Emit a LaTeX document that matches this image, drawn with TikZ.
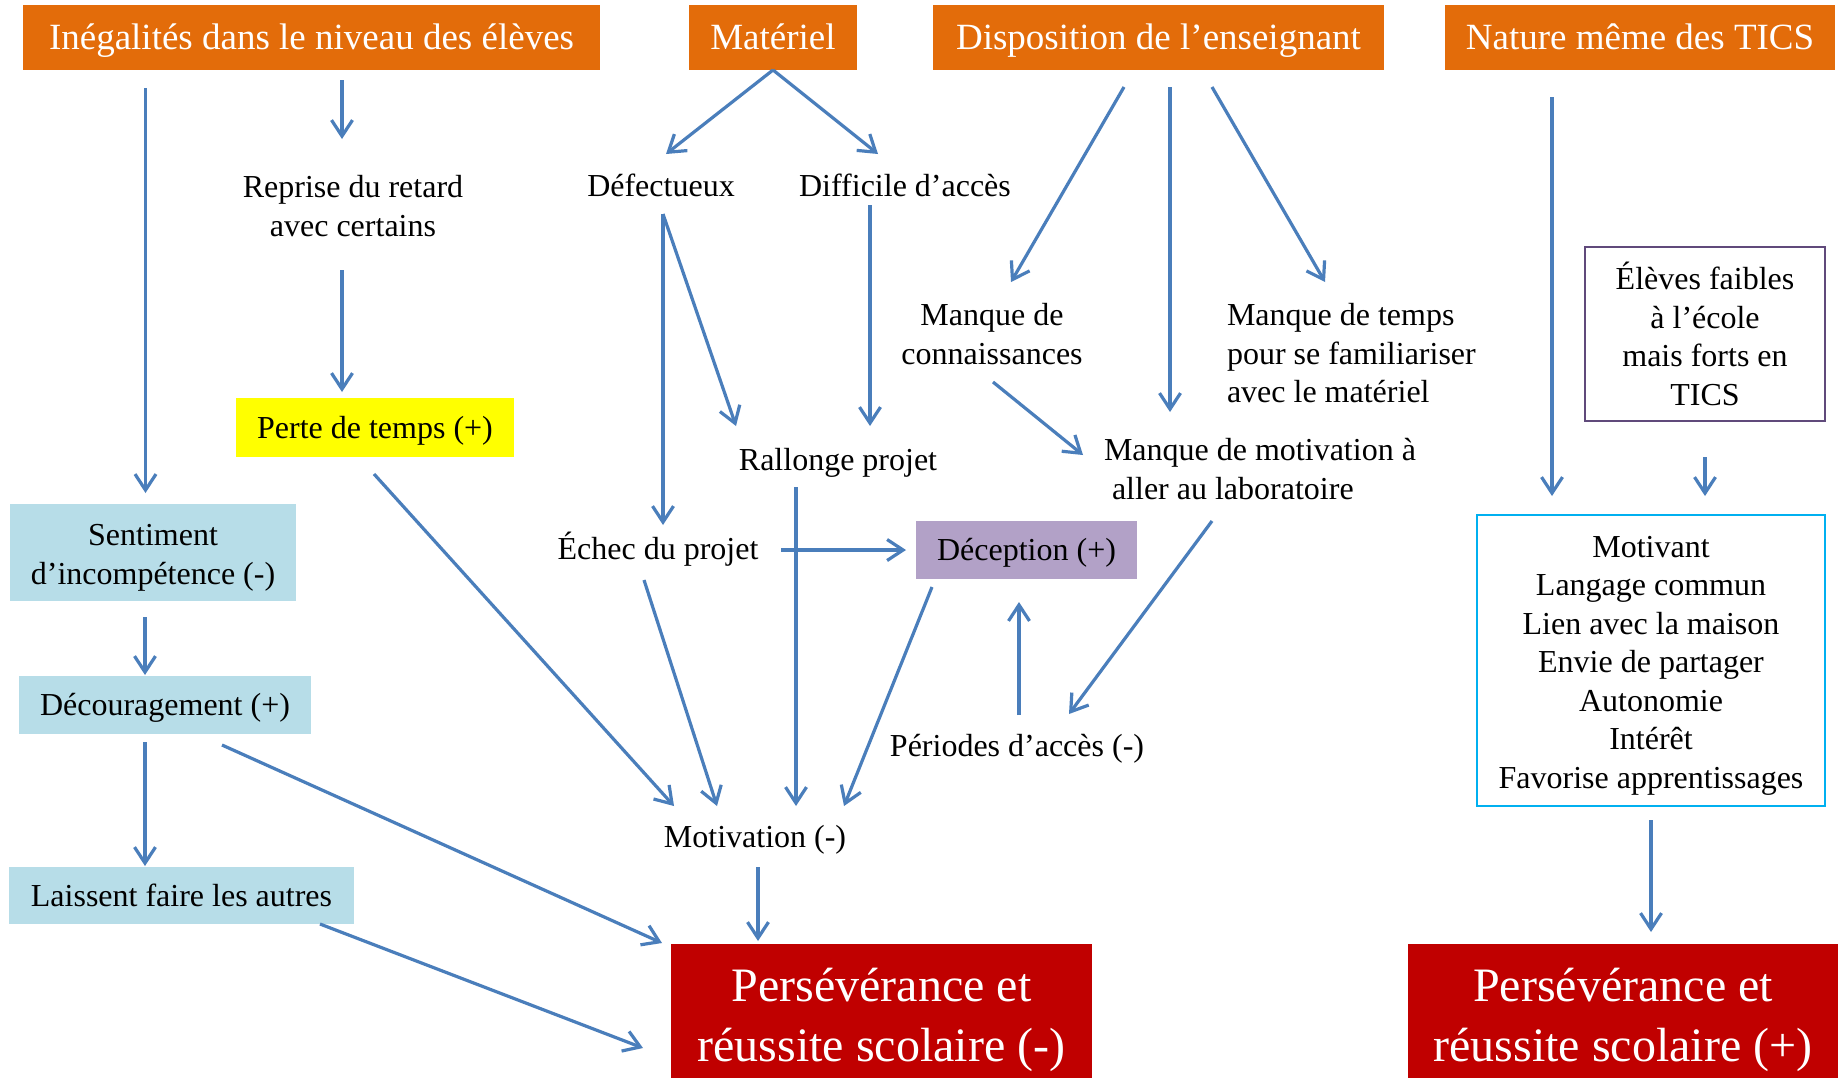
\documentclass[tikz,border=0pt]{standalone}
\usepackage{fontspec}
\setmainfont{Liberation Serif}
\usetikzlibrary{arrows.meta,calc}
\definecolor{orng}{HTML}{E36C0A}
\definecolor{yellowc}{HTML}{FFFF00}
\definecolor{lblue}{HTML}{B7DDE8}
\definecolor{purp}{HTML}{B2A1C7}
\definecolor{darkred}{HTML}{C00000}
\definecolor{purpb}{HTML}{604A7B}
\definecolor{cyanb}{HTML}{00B0F0}
\definecolor{arrowblue}{HTML}{4A7EBB}
\begin{document}
\begin{tikzpicture}[x=1pt,y=-1pt,
  base/.style={inner sep=0pt, outer sep=0pt},
  topbox/.style={base, fill=orng, text=white, font=\fontsize{37}{44}\selectfont, text height=24.5pt, text depth=0pt, minimum height=65pt},
  lbl/.style={base, font=\fontsize{32}{38.5}\selectfont},
  mlbl/.style={lbl, align=center},
  sbox/.style={lbl, text height=21.2pt, text depth=0pt},
  redbox/.style={base, fill=darkred, text=white, align=center, font=\fontsize{48}{60}\selectfont, minimum height=145pt},
  arr/.style={draw=arrowblue, line width=3.2pt, -{Straight Barb[length=16pt,width=21pt]}}
]
\useasboundingbox (0,0) rectangle (1838,1077);
\fill[white] (0,0) rectangle (1838,1077);

% top row
\node[topbox, minimum width=577pt] (ineg) at (311.5,37.5) {Inégalités dans le niveau des élèves};
\node[topbox, minimum width=168pt] (mat) at (773,37.5) {Matériel};
\node[topbox, minimum width=451pt] (disp) at (1158.5,37.5) {Disposition de l’enseignant};
\node[topbox, minimum width=390pt] (nat) at (1640,37.5) {Nature même des TICS};

% left column
\node[mlbl] (reprise) at (353,206) {Reprise du retard\\avec certains};
\node[sbox, fill=yellowc, minimum width=278pt, minimum height=59pt] (perte) at (375,427.5) {Perte de temps (+)};
\node[mlbl, fill=lblue, minimum width=286pt, minimum height=97pt] (sent) at (153,552.5) {\rule{0pt}{32pt}Sentiment\\d’incompétence (-)};
\node[sbox, fill=lblue, minimum width=292pt, minimum height=58pt] (decour) at (165,705) {Découragement (+)};
\node[sbox, fill=lblue, minimum width=345pt, minimum height=57pt] (laiss) at (181.5,895.5) {Laissent faire les autres};

% middle
\node[lbl, anchor=base] (defect) at (661,196) {Défectueux};
\node[lbl, anchor=base] (diffic) at (905,196) {Difficile d’accès};
\node[lbl, anchor=base] (rallonge) at (838,470) {Rallonge projet};
\node[lbl, anchor=base] (echec) at (658,559) {Échec du projet};
\node[sbox, fill=purp, minimum width=221pt, minimum height=58pt] (decep) at (1026.5,550) {Déception (+)};
\node[mlbl] (conn) at (992,334) {Manque de\\connaissances};
\node[lbl, align=left, anchor=west] (temps) at (1227,353.5) {Manque de temps\\pour se familiariser\\avec le matériel};
\node[lbl, align=left, anchor=west] (manqmot) at (1104,469) {Manque de motivation à\\\hspace*{8pt}aller au laboratoire};
\node[lbl, anchor=base] (periodes) at (1017,756) {Périodes d’accès (-)};
\node[lbl, anchor=base] (motiv) at (755,847) {Motivation (-)};

% right
\node[mlbl, draw=purpb, line width=2pt, minimum width=240pt, minimum height=174pt] (eleves) at (1705,334) {Élèves faibles\\à l’école\\mais forts en\\TICS};
\node[mlbl, draw=cyanb, line width=2.5pt, minimum width=348pt, minimum height=291pt] (bluebox) at (1651,660.5) {\rule{0pt}{31pt}Motivant\\Langage commun\\Lien avec la maison\\Envie de partager\\Autonomie\\Intérêt\\Favorise apprentissages};

% outcomes
\node[redbox, minimum width=421pt] (red1) at (881.5,1016.5) {\rule{0pt}{40pt}Persévérance et\\réussite scolaire (-)};
\node[redbox, minimum width=430pt] (red2) at (1623,1016.5) {\rule{0pt}{40pt}Persévérance et\\réussite scolaire (+)};

% connectors
\draw[arr] ($(ineg)+(-166,50.5)$) -- ($(sent)+(-7.5,-59.5)$);
\draw[arr] ($(ineg)+(30.5,42.5)$) -- ($(reprise)+(-11,-67)$);
\draw[arr] ($(mat)+(0,32.5)$) -- ($(defect.base)+(5,-42)$);
\draw[arr] ($(mat)+(0,32.5)$) -- ($(diffic.base)+(-27,-42)$);
\draw[arr] ($(reprise)+(-11,64)$) -- ($(perte)+(-33,-35.5)$);
\draw[arr] ($(defect.base)+(2,18)$) -- ($(echec.base)+(5,-34)$);
\draw[arr] ($(defect.base)+(2,18)$) -- ($(rallonge.base)+(-102,-44)$);
\draw[arr] ($(diffic.base)+(-35,9)$) -- ($(rallonge.base)+(32,-44)$);
\draw[arr] ($(disp)+(-34.5,49.5)$) -- ($(conn)+(19,-52)$);
\draw[arr] ($(disp)+(11.5,49.5)$) -- ($(manqmot.west)+(66,-57)$);
\draw[arr] ($(disp)+(53.5,49.5)$) -- ($(temps.west)+(98,-71.5)$);
\draw[arr] ($(conn)+(1,48)$) -- ($(manqmot.west)+(-21,-14)$);
\draw[arr] ($(manqmot.west)+(108,52)$) -- ($(periodes.base)+(52,-42)$);
\draw[arr] ($(periodes.base)+(2,-41)$) -- ($(decep)+(-7.5,52)$);
\draw[arr] ($(echec.base)+(123,-9)$) -- ($(decep)+(-120.5,0)$);
\draw[arr] ($(perte)+(-1,46.5)$) -- ($(motiv.base)+(-81,-41)$);
\draw[arr] ($(echec.base)+(-14,21)$) -- ($(motiv.base)+(-38,-41)$);
\draw[arr] ($(rallonge.base)+(-42,17)$) -- ($(motiv.base)+(41,-41)$);
\draw[arr] ($(decep)+(-94.5,37)$) -- ($(motiv.base)+(89,-41)$);
\draw[arr] ($(motiv.base)+(3,20)$) -- ($(red1)+(-123.5,-75.5)$);
\draw[arr] ($(decour)+(57,40)$) -- ($(red1)+(-219.5,-73.5)$);
\draw[arr] ($(laiss)+(138.5,28.5)$) -- ($(red1)+(-238.5,31.5)$);
\draw[arr] ($(sent)+(-8,64.5)$) -- ($(decour)+(-20,-30)$);
\draw[arr] ($(decour)+(-20,37)$) -- ($(laiss)+(-36.5,-29.5)$);
\draw[arr] ($(nat)+(-88,59.5)$) -- ($(bluebox)+(-99,-164.5)$);
\draw[arr] ($(eleves)+(0,123)$) -- ($(bluebox)+(54,-164.5)$);
\draw[arr] ($(bluebox)+(0,159.5)$) -- ($(red2)+(28,-84.5)$);
\end{tikzpicture}
\end{document}
